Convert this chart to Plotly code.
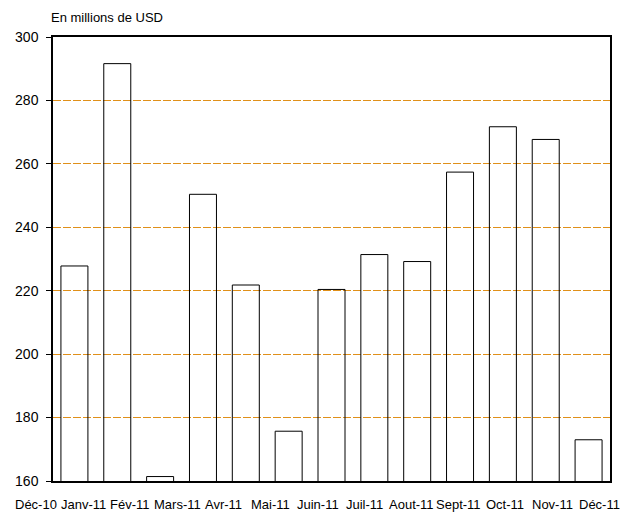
import plotly.graph_objects as go

months = ["Déc-10", "Janv-11", "Fév-11", "Mars-11", "Avr-11", "Mai-11", "Juin-11",
          "Juil-11", "Aout-11", "Sept-11", "Oct-11", "Nov-11", "Déc-11"]
values = [227.8, 291.6, 161.4, 250.4, 221.8, 175.7, 220.4, 231.4, 229.2, 257.4, 271.7, 267.7, 173.0]
y_ticks = [160, 180, 200, 220, 240, 260, 280, 300]

# page body has an 8px margin, so the figure is sized to fit inside the window
W, H = 630, 505
ml, mr, mt, mb = 45, 28, 29, 32
pw = W - ml - mr

fig = go.Figure()
fig.add_trace(go.Bar(
    x=list(range(len(months))), y=values,
    marker=dict(color="rgba(255,255,255,0)", line=dict(color="black", width=1)),
    hoverinfo="skip",
))

# category labels, spread slightly wider than the bars (as in the original)
lab_start, lab_step = -16.7, 46.9
for i, m in enumerate(months):
    fig.add_annotation(
        x=(lab_start + lab_step * i) / pw, xref="paper", xanchor="center",
        y=0, yref="paper", yshift=-23, yanchor="middle",
        text=m, showarrow=False,
        font=dict(family="Liberation Sans, Arial", size=13, color="black"),
    )

fig.add_annotation(
    x=-4 / pw, xref="paper", y=1, yref="paper", yshift=19.5, xanchor="left",
    yanchor="middle", text="En millions de USD", showarrow=False,
    font=dict(family="Liberation Sans, Arial", size=13, color="black"),
)

fig.update_layout(
    width=W, height=H,
    margin=dict(l=ml, r=mr, t=mt, b=mb, autoexpand=False),
    paper_bgcolor="white", plot_bgcolor="white",
    showlegend=False, bargap=0.37,
    font=dict(family="Liberation Sans, Arial", color="black"),
)
fig.update_xaxes(
    range=[-0.5, len(months) - 0.5], showticklabels=False, ticks="",
    showgrid=False, zeroline=False,
    showline=True, linecolor="black", linewidth=1.5, mirror=True,
)
fig.update_yaxes(
    range=[160, 300], tickvals=y_ticks, ticks="outside", ticklen=5,
    tickcolor="black", tickfont=dict(size=14), ticklabelstandoff=5,
    showgrid=True, gridcolor="#E0901A", gridwidth=1, griddash="8px,2px",
    zeroline=False,
    showline=True, linecolor="black", linewidth=1.5, mirror=True,
)

fig.write_html("out.html")
